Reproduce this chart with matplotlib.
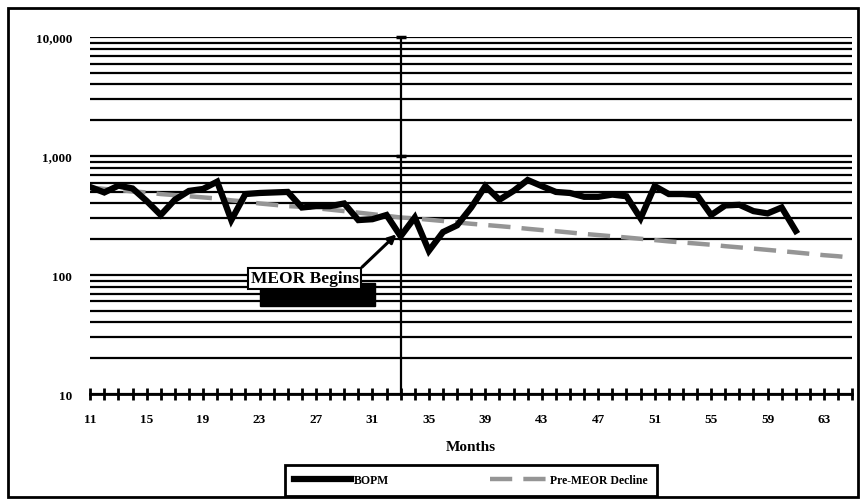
import matplotlib
matplotlib.use("Agg")
import matplotlib.pyplot as plt
from matplotlib.patches import Rectangle
import numpy as np

plt.rcParams['font.family'] = ['Liberation Serif', 'DejaVu Serif']
plt.rcParams['font.weight'] = 'bold'

# 数据
months = list(range(11, 62))
bopm = [550, 495, 565, 535, 420, 320, 430, 510, 530, 610, 290,
        480, 490, 495, 500, 370, 380, 380, 400, 290, 295, 320, 212,
        305, 160, 230, 262, 370, 560, 430, 510, 630, 560, 500, 490,
        455, 455, 475, 460, 300, 560, 480, 480, 470, 320, 385, 390,
        345, 330, 370, 235]

decline_months = list(range(11, 66))
decline = [545, 530, 520, 505, 495, 480, 470, 460, 450, 440, 425,
           415, 400, 390, 380, 375, 365, 355, 345, 335, 325, 315,
           305, 300, 292, 285, 277, 270, 264, 258, 252, 245, 239,
           234, 228, 222, 217, 212, 207, 202, 197, 192, 188, 184,
           180, 175, 171, 167, 163, 159, 155, 151, 147, 144, 140]

meor_month = 33
meor_value = 212
xtick_months = list(range(11, 66))
xtick_labels = [str(m) if (m - 11) % 4 == 0 else '' for m in xtick_months]
ytick_values = [10, 100, 1000, 10000]
ytick_labels = ['10', '100', '1,000', '10,000']

fig = plt.figure(figsize=(8.67, 5.02), dpi=100)
ax = fig.add_axes([0.104, 0.213, 0.879, 0.711])

ax.set_yscale('log')
ax.set_ylim(10, 10000)
ax.set_xlim(11, 65)

# 水平网格线
ax.yaxis.grid(True, which='both', color='black', linewidth=1.6)
ax.xaxis.grid(False)
ax.set_axisbelow(True)

ax.plot(decline_months, decline, color='#959595', linewidth=3.2,
        dashes=(5, 2.5), label='Pre-MEOR Decline', zorder=3)
ax.plot(months, bopm, color='black', linewidth=4.5, label='BOPM',
        solid_joinstyle='miter', zorder=4)

# MEOR 开始竖线
ax.vlines(meor_month, 10, 10000, color='black', linewidth=1.6, zorder=5, clip_on=False)
ax.plot([meor_month, meor_month], [1000, 10000], linestyle='none', marker='_',
        markersize=7, markeredgewidth=2.5, color='black', clip_on=False, zorder=5)

for side in ['left', 'right', 'top']:
    ax.spines[side].set_visible(False)
ax.spines['bottom'].set_linewidth(2)

ax.set_xticks(xtick_months)
ax.set_xticklabels(xtick_labels, fontsize=9.5, fontweight='bold')
ax.tick_params(axis='x', direction='inout', length=9, width=2, pad=9)
ax.set_yticks(ytick_values)
ax.set_yticklabels(ytick_labels, fontsize=9.5, fontweight='bold')
ax.yaxis.set_minor_formatter(matplotlib.ticker.NullFormatter())
ax.tick_params(axis='y', which='both', length=0, pad=13)
ax.set_xlabel('Months', fontsize=11, fontweight='bold', labelpad=11)

# 注释框 + 阴影
ax.annotate('MEOR Begins', xy=(26.2, 94), xytext=(9.5, -12),
            textcoords='offset points', ha='center', va='center',
            fontsize=12.5, fontweight='bold', color='black',
            bbox=dict(boxstyle='square,pad=0.2', facecolor='black', edgecolor='black'),
            zorder=6)
ax.annotate('MEOR Begins', xy=(meor_month - 0.3, meor_value + 8), xytext=(26.2, 94),
            textcoords='data', ha='center', va='center',
            fontsize=12.5, fontweight='bold',
            bbox=dict(boxstyle='square,pad=0.15', facecolor='white', edgecolor='black', linewidth=1.5),
            arrowprops=dict(arrowstyle='-|>', color='black', lw=2.2, relpos=(1, 1),
                            mutation_scale=12, shrinkA=0, shrinkB=0),
            zorder=7)

leg = ax.legend(handles=ax.get_lines()[1::-1], loc='center', ncol=2,
                bbox_to_anchor=(0.543, 0.041), bbox_transform=fig.transFigure,
                fancybox=False, edgecolor='black', framealpha=1,
                handlelength=4.8, handletextpad=0.3, columnspacing=8.5,
                borderpad=0.8, prop={'size': 8.5, 'weight': 'bold'})
leg.get_frame().set_linewidth(2)

# 外框
fig.patches.append(Rectangle((0.0092, 0.008), 0.980, 0.974, transform=fig.transFigure,
                             fill=False, edgecolor='black', linewidth=2))

fig.savefig('out.png', dpi=100)
